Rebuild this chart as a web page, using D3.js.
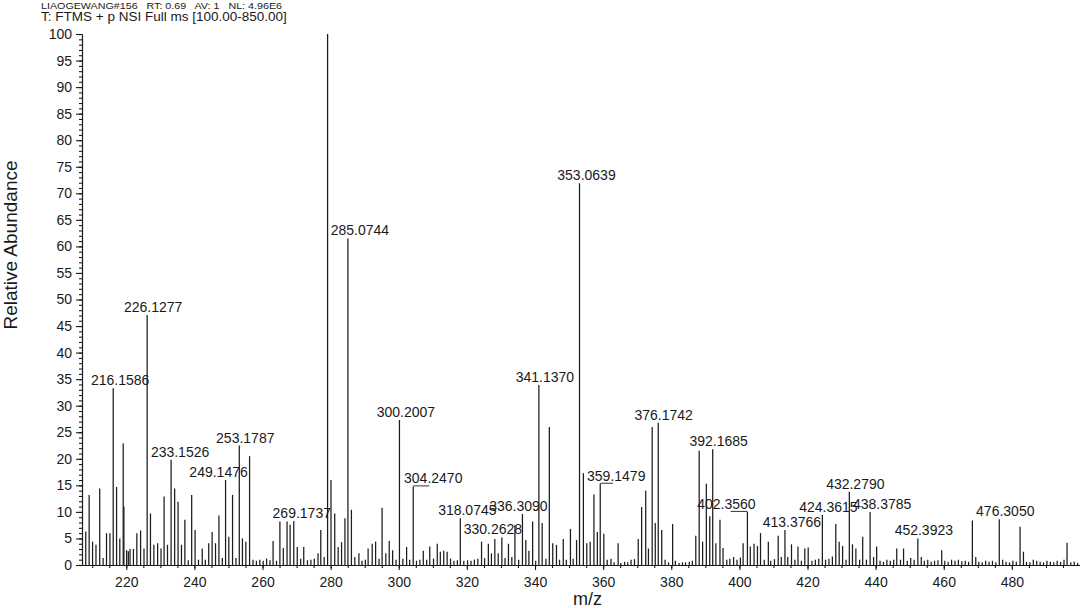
<!DOCTYPE html>
<html><head><meta charset="utf-8">
<script src="https://cdn.jsdelivr.net/npm/d3@7"></script>
<style>
body{margin:0;background:#fff}
svg{display:block}
text{font-family:Arial,"Liberation Sans",sans-serif;fill:#1a1a1a}
</style>
</head><body>
<svg id="chart" width="1080" height="608"></svg>
<script>
// ---------- DATA ----------
const headerLine1 = "LIAOGEWANG#156   RT: 0.69   AV: 1   NL: 4.96E6";
const headerLine2 = "T: FTMS + p NSI Full ms [100.00-850.00]";
const xTitle = "m/z";
const yTitle = "Relative Abundance";
const xTickValues = [220, 240, 260, 280, 300, 320, 340, 360, 380, 400, 420, 440, 460, 480];
const yTickValues = [0, 5, 10, 15, 20, 25, 30, 35, 40, 45, 50, 55, 60, 65, 70, 75, 80, 85, 90, 95, 100];

const peakMz = [
  208.1, 209.1, 210.1, 211.1, 212.2, 213.2, 214.2, 215.2, 216.1586, 217.15, 218.1, 219.1, 219.3,
  220.1, 220.6, 221.1, 222.1, 223.1, 224.2, 225.2, 226.1277, 227.1, 228.1, 229.2,
  230.2, 231.1, 232.1, 233.1526, 234.2, 235.2, 236.2, 237.2, 238.2, 239.2,
  240.2, 241.2, 242.3, 243.2, 244.2, 245.2, 246.2, 247.2, 248.2, 249.1476,
  250.1, 251.2, 252.2, 253.1787, 254.1, 255.1, 256.2, 257.2, 258.2, 259.2,
  260.2, 261.2, 262.2, 263.1, 264.1, 265.1, 266.1, 267.2, 268.1, 269.1737,
  270.2, 271.2, 272.1, 273.2, 274.2, 275.2, 276.3, 277.1, 278.1, 279.1,
  280.1, 281.2, 282.2, 283.2, 284.2, 285.0744, 286.1, 287.1, 288.3, 289.2,
  290.2, 291.0, 292.2, 293.2, 294.2, 295.1, 296.2, 297.2, 298.2, 299.2,
  300.2007, 301.2, 302.3, 303.2, 304.2470, 305.2, 306.2, 307.2, 308.2, 309.1,
  310.2, 311.3, 312.2, 313.2, 314.2, 315.2, 316.2, 317.2, 318.0745, 319.1,
  320.2, 321.2, 322.2, 323.2, 324.3, 325.2, 326.3, 327.2, 328.2, 329.2,
  330.2628, 331.2, 332.2, 333.2, 334.1, 335.2, 336.3090, 337.3, 338.2, 339.3,
  340.2, 341.1370, 342.1, 343.2, 344.2, 345.2, 346.3, 347.2, 348.3, 349.2,
  350.4, 351.2, 352.2, 353.0639, 354.2, 355.2, 356.2, 357.3, 358.3, 359.1479,
  360.2, 361.2, 362.3, 363.2, 364.4, 365.2, 366.3, 367.2, 368.2, 369.2,
  370.3, 371.3, 372.5, 373.3, 374.4, 375.3, 376.1742, 377.2, 378.2, 379.2,
  380.4, 381.2, 382.3, 383.3, 384.2, 385.3, 386.2, 387.2, 388.2, 389.2,
  390.3, 391.3, 392.1685, 393.1, 394.3, 395.2, 396.3, 397.2, 398.3, 399.3,
  400.3, 401.1, 402.3560, 403.2, 404.3, 405.3, 406.2, 407.3, 408.5, 409.2,
  410.3, 411.4, 412.3, 413.3766, 414.2, 415.3, 416.3, 417.2, 418.2, 419.2,
  420.2, 421.3, 422.3, 423.3, 424.3615, 425.3, 426.3, 427.3, 428.3, 429.3,
  430.3, 431.3, 432.2790, 433.2, 434.2, 435.3, 436.2, 437.3, 438.3785, 439.4,
  440.3, 441.3, 442.3, 443.3, 444.3, 445.3, 446.2, 447.3, 448.2, 449.3,
  450.3, 451.3, 452.3923, 453.4, 454.3, 455.3, 456.3, 457.3, 458.3, 459.4,
  460.3, 461.3, 462.3, 463.3, 464.3, 465.3, 466.3, 467.3, 468.4, 469.4,
  470.3, 471.3, 472.3, 473.3, 474.3, 475.3, 476.3050, 477.3, 478.3, 479.3,
  480.3, 481.3, 482.4, 483.4, 484.3, 485.3, 486.3, 487.3, 488.3, 489.3,
  490.3, 491.3, 492.3, 493.3, 494.3, 495.3, 496.2, 497.3, 498.3, 499.3
];
const peakAbundance = [
  6.3, 13.2, 4.4, 3.8, 14.4, 1.3, 6.0, 6.0, 33.3, 14.7, 5.0, 22.9, 11.0,
  2.8, 2.6, 3.0, 3.0, 6.0, 6.5, 3.1, 47.1, 9.7, 3.8, 4.1,
  3.1, 12.9, 3.8, 19.8, 14.4, 11.9, 3.8, 8.5, 0.9, 13.2,
  6.6, 1.0, 3.1, 1.0, 4.1, 6.2, 4.1, 9.3, 1.3, 16.0,
  5.3, 13.2, 1.3, 22.5, 5.0, 4.4, 20.5, 1.0, 0.8, 1.0,
  0.8, 1.2, 0.9, 4.5, 0.8, 8.2, 3.2, 8.2, 7.6, 8.3,
  3.4, 1.2, 3.4, 0.9, 1.0, 1.2, 2.2, 6.6, 1.5, 100,
  16.0, 9.7, 3.4, 4.3, 8.8, 61.5, 10.4, 1.5, 2.2, 0.8,
  1.0, 3.1, 4.0, 4.4, 1.2, 10.8, 2.2, 4.5, 2.8, 1.0,
  27.3, 1.2, 3.4, 1.0, 14.8, 0.8, 1.0, 2.7, 1.0, 3.5,
  1.2, 4.0, 2.5, 2.7, 2.5, 1.2, 0.8, 0.9, 8.8, 0.8,
  0.9, 0.8, 1.0, 1.2, 4.4, 1.3, 4.0, 2.2, 4.9, 2.2,
  5.2, 1.3, 4.0, 1.5, 7.5, 1.0, 9.6, 4.7, 2.7, 8.2,
  0.8, 33.9, 7.9, 1.2, 26.0, 4.1, 3.8, 1.0, 4.9, 1.0,
  6.8, 1.2, 4.7, 71.9, 17.3, 4.1, 4.4, 13.3, 6.2, 15.3,
  5.9, 1.0, 1.2, 0.5, 4.1, 0.4, 0.6, 0.5, 1.0, 1.1,
  4.9, 10.9, 14.0, 3.1, 26.0, 7.9, 26.8, 6.6, 1.0, 0.5,
  7.7, 0.8, 0.4, 0.5, 0.5, 0.6, 0.8, 5.5, 21.5, 4.4,
  15.3, 9.2, 21.8, 4.1, 8.5, 3.2, 1.0, 1.2, 1.5, 1.0,
  1.4, 4.1, 10.0, 3.5, 4.0, 3.6, 6.0, 1.0, 4.4, 0.8,
  1.1, 5.5, 1.5, 6.6, 1.5, 3.9, 1.0, 3.5, 0.8, 3.1,
  3.3, 0.8, 1.0, 1.2, 9.4, 1.0, 1.2, 1.6, 7.7, 4.4,
  3.6, 1.0, 13.8, 3.9, 3.1, 1.0, 5.3, 1.0, 10.0, 1.5,
  3.5, 0.8, 0.6, 1.0, 0.8, 1.0, 3.1, 1.0, 3.1, 0.8,
  1.3, 1.0, 5.0, 1.5, 0.8, 1.0, 0.6, 0.8, 0.9, 2.8,
  0.8, 0.6, 1.0, 0.8, 1.0, 0.7, 0.8, 0.6, 8.4, 1.5,
  0.6, 0.5, 0.8, 0.6, 0.8, 0.5, 8.6, 1.0, 0.6, 0.5,
  0.8, 0.6, 7.2, 2.5, 0.6, 0.5, 1.0, 0.8, 0.6, 0.5,
  0.8, 0.6, 0.5, 0.8, 0.6, 1.0, 4.2, 0.5, 0.6, 0.4
];
const peakLabels = [
  "216.1586", "226.1277", "233.1526", "249.1476", "253.1787", "269.1737",
  "285.0744", "300.2007", "304.2470", "318.0745", "330.2628", "336.3090",
  "341.1370", "353.0639", "359.1479", "376.1742", "392.1685", "402.3560",
  "413.3766", "424.3615", "432.2790", "438.3785", "452.3923", "476.3050"
];

// ---------- DRAWING ----------
const svg = d3.select("#chart");
const x = d3.scaleLinear().domain([207, 500]).range([82, 1080]);
const y = d3.scaleLinear().domain([0, 100]).range([565, 34]);

// header
svg.append("text").attr("x", 41).attr("y", 8.5)
  .attr("font-size", 9.5).attr("textLength", 241).attr("lengthAdjust", "spacingAndGlyphs")
  .style("white-space", "pre").text(headerLine1);
svg.append("text").attr("x", 41).attr("y", 21)
  .attr("font-size", 13.5).style("white-space", "pre").text(headerLine2);

// peaks
const peaks = peakMz.map((m, i) => ({mz: m, ab: peakAbundance[i]}));
svg.append("g").selectAll("line").data(peaks).join("line")
  .attr("x1", d => x(d.mz)).attr("x2", d => x(d.mz))
  .attr("y1", y(0)).attr("y2", d => y(d.ab))
  .attr("stroke", "#1c1c1c").attr("stroke-width", 1.25);

// axes
const axisStyle = g => {
  g.selectAll("path, line").attr("stroke", "#1a1a1a").attr("stroke-width", 1.1);
  g.selectAll("text").attr("font-size", 14).attr("font-family", "Arial, 'Liberation Sans', sans-serif").attr("fill", "#1a1a1a");
};
svg.append("g").attr("transform", "translate(82,0)")
  .call(d3.axisLeft(y).tickValues(d3.range(0, 101, 1)).tickSize(3).tickSizeOuter(0).tickFormat(""))
  .call(axisStyle);
svg.append("g").attr("transform", "translate(82,0)")
  .call(d3.axisLeft(y).tickValues(yTickValues).tickSize(6).tickSizeOuter(0).tickPadding(4).tickFormat(d3.format("d")))
  .call(axisStyle);
svg.append("g").attr("transform", `translate(0,${y(0)})`)
  .call(d3.axisBottom(x).tickValues(d3.range(210, 500, 5)).tickSize(3).tickSizeOuter(0).tickFormat(""))
  .call(axisStyle);
svg.append("g").attr("transform", `translate(0,${y(0)})`)
  .call(d3.axisBottom(x).tickValues(xTickValues).tickSize(5).tickSizeOuter(0).tickPadding(7).tickFormat(d3.format("d")))
  .call(axisStyle);

// peak labels (offsets are styling only)
const labelDx = {"216.1586":7, "226.1277":6, "233.1526":9, "249.1476":-7, "253.1787":6, "269.1737":8,
  "285.0744":12, "300.2007":6.5, "304.2470":20, "318.0745":7, "330.2628":-9, "336.3090":-4,
  "341.1370":6, "353.0639":7, "359.1479":16, "376.1742":5.5, "392.1685":6, "402.3560":-21,
  "413.3766":7, "424.3615":6, "432.2790":6, "438.3785":12, "452.3923":6, "476.3050":6};
const lab = peakLabels.map(s => {
  const p = peaks.find(d => Math.abs(d.mz - (+s)) < 1e-6);
  return {text: s, mz: p.mz, ab: p.ab, dx: labelDx[s] || 6};
});
const lg = svg.append("g");
lg.selectAll("line").data(lab.filter(d => Math.abs(d.dx) > 10 && d.text !== "285.0744" && d.text !== "438.3785")).join("line")
  .attr("x1", d => x(d.mz)).attr("x2", d => x(d.mz) + d.dx * 0.8)
  .attr("y1", d => y(d.ab) - 0.5).attr("y2", d => y(d.ab) - 0.5)
  .attr("stroke", "#333").attr("stroke-width", 1);
lg.selectAll("text").data(lab).join("text")
  .attr("x", d => x(d.mz) + d.dx).attr("y", d => y(d.ab) - 3)
  .attr("text-anchor", "middle").attr("font-size", 14)
  .text(d => d.text);

// titles
svg.append("text").attr("x", 573).attr("y", 605).attr("font-size", 18).text(xTitle);
svg.append("text").attr("transform", "translate(17,245) rotate(-90)")
  .attr("text-anchor", "middle").attr("font-size", 19).text(yTitle);
</script>
</body></html>
